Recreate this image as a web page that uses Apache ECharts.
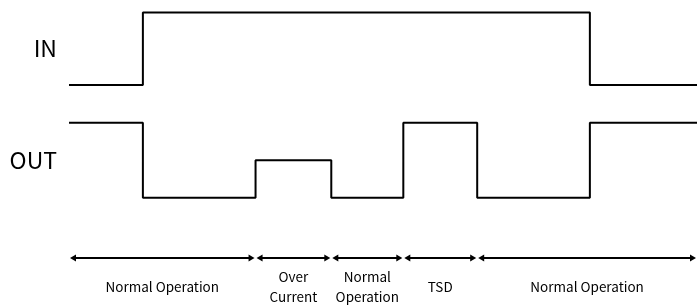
<!DOCTYPE html>
<html>
<head>
<meta charset="utf-8">
<script src="https://cdn.jsdelivr.net/npm/echarts@6/dist/echarts.min.js"></script>
<style>
  html, body { margin: 0; padding: 0; background: #fff; }
  #main { width: 697px; height: 307px; }
</style>
</head>
<body>
<div id="main"></div>
<script>
// edge times of the signals (arbitrary time units)
var times = [0, 2, 5.05, 7.1, 9.05, 11.05, 14.1, 17];
// level held during each interval between edges
var inLevels = [0, 1, 1, 1, 1, 1, 0];
var outLevels = [1, 0, 0.5, 0, 1, 0, 1];
// operating phases below the waveforms
var phaseBounds = [0, 5.05, 7.1, 9.05, 11.05, 17];
var phaseNames = ['Normal Operation', 'Over\nCurrent', 'Normal\nOperation', 'TSD', 'Normal Operation'];

var font = '"Noto Sans CJK JP", "Noto Sans", sans-serif';

function stepData(levels) {
    var pts = [];
    for (var i = 0; i < levels.length; i++) {
        pts.push([times[i], levels[i]]);
    }
    pts.push([times[times.length - 1], levels[levels.length - 1]]);
    return pts;
}

var phases = [];
for (var i = 0; i < phaseNames.length; i++) {
    phases.push([phaseBounds[i], phaseBounds[i + 1], i]);
}

var myChart = echarts.init(document.getElementById('main'));

function xAx(idx) {
    return {
        type: 'value', gridIndex: idx, min: 0, max: 17,
        show: false
    };
}
function yAx(idx, name) {
    return {
        type: 'value', gridIndex: idx, min: 0, max: 1,
        name: name,
        nameLocation: 'middle',
        nameRotate: 0,
        nameGap: 12,
        nameTextStyle: { color: '#000', fontSize: 23, fontFamily: font, align: 'right', verticalAlign: 'middle' },
        axisLine: { show: false },
        axisTick: { show: false },
        axisLabel: { show: false },
        splitLine: { show: false }
    };
}

option = {
    animation: false,
    backgroundColor: '#fff',
    grid: [
        { left: 69, right: 0, top: 12.5, height: 72.5 },
        { left: 69, right: 0, top: 122.7, height: 75 },
        { left: 69, right: 0, top: 258, height: 30 }
    ],
    xAxis: [xAx(0), xAx(1), xAx(2)],
    yAxis: [yAx(0, 'IN'), yAx(1, 'OUT'), {
        type: 'value', gridIndex: 2, min: 0, max: 1, inverse: true, show: false
    }],
    series: [
        {
            name: 'IN', type: 'line', xAxisIndex: 0, yAxisIndex: 0,
            step: 'end', symbol: 'none', clip: false,
            lineStyle: { color: '#000', width: 2 },
            data: stepData(inLevels)
        },
        {
            name: 'OUT', type: 'line', xAxisIndex: 1, yAxisIndex: 1,
            step: 'end', symbol: 'none', clip: false,
            lineStyle: { color: '#000', width: 2 },
            data: stepData(outLevels)
        },
        {
            name: 'phase', type: 'custom', xAxisIndex: 2, yAxisIndex: 2,
            clip: false,
            data: phases,
            renderItem: function (params, api) {
                var p0 = api.coord([api.value(0), 0]);
                var p1 = api.coord([api.value(1), 0]);
                var y = p0[1];
                var a = p0[0] + 1, b = p1[0] - 1;
                var name = phaseNames[api.value(2)];
                return {
                    type: 'group',
                    children: [
                        { type: 'line', shape: { x1: a + 3, y1: y, x2: b - 3, y2: y },
                          style: { stroke: '#000', lineWidth: 2 } },
                        { type: 'polygon', shape: { points: [[a, y], [a + 6, y - 3.5], [a + 6, y + 3.5]] },
                          style: { fill: '#000' } },
                        { type: 'polygon', shape: { points: [[b, y], [b - 6, y - 3.5], [b - 6, y + 3.5]] },
                          style: { fill: '#000' } },
                        { type: 'text', x: (a + b) / 2, y: y + 29,
                          style: { text: name, fill: '#000', font: '13.5px ' + font,
                                   align: 'center', verticalAlign: 'middle', lineHeight: 20 } }
                    ]
                };
            }
        }
    ]
};

myChart.setOption(option);
</script>
</body>
</html>
